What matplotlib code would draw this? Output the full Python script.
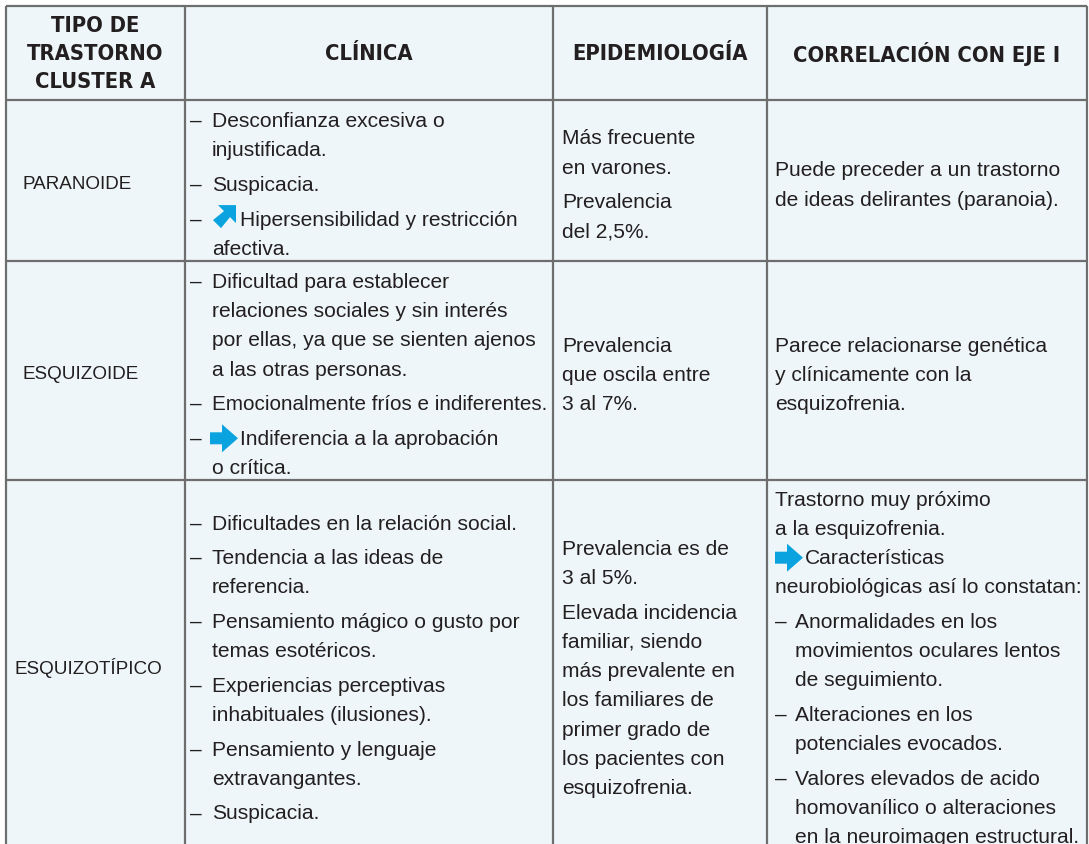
import matplotlib
matplotlib.use("Agg")
import matplotlib.pyplot as plt
from matplotlib import font_manager
from matplotlib.font_manager import FontProperties
from matplotlib.patches import Polygon, Rectangle

# ---------------- data ----------------
headers = [["TIPO DE", "TRASTORNO", "CLUSTER A"], ["CLÍNICA"], ["EPIDEMIOLOGÍA"], ["CORRELACIÓN CON EJE I"]]
row_labels = ["PARANOIDE", "ESQUIZOIDE", "ESQUIZOTÍPICO"]

# each paragraph: (dash, [lines]); a line starting with "↗" or "→" gets a blue arrow icon
clinica = [
    [(True, ["Desconfianza excesiva o", "injustificada."]),
     (True, ["Suspicacia."]),
     (True, ["↗Hipersensibilidad y restricción", "afectiva."])],
    [(True, ["Dificultad para establecer", "relaciones sociales y sin interés",
             "por ellas, ya que se sienten ajenos", "a las otras personas."]),
     (True, ["Emocionalmente fríos e indiferentes."]),
     (True, ["→Indiferencia a la aprobación", "o crítica."])],
    [(True, ["Dificultades en la relación social."]),
     (True, ["Tendencia a las ideas de", "referencia."]),
     (True, ["Pensamiento mágico o gusto por", "temas esotéricos."]),
     (True, ["Experiencias perceptivas", "inhabituales (ilusiones)."]),
     (True, ["Pensamiento y lenguaje", "extravangantes."]),
     (True, ["Suspicacia."])],
]
epidemiologia = [
    [(False, ["Más frecuente", "en varones."]),
     (False, ["Prevalencia", "del 2,5%."])],
    [(False, ["Prevalencia", "que oscila entre", "3 al 7%."])],
    [(False, ["Prevalencia es de", "3 al 5%."]),
     (False, ["Elevada incidencia", "familiar, siendo", "más prevalente en", "los familiares de",
              "primer grado de", "los pacientes con", "esquizofrenia."])],
]
correlacion = [
    [(False, ["Puede preceder a un trastorno", "de ideas delirantes (paranoia)."])],
    [(False, ["Parece relacionarse genética", "y clínicamente con la", "esquizofrenia."])],
    [(False, ["Trastorno muy próximo", "a la esquizofrenia.", "→Características",
              "neurobiológicas así lo constatan:"]),
     (True, ["Anormalidades en los", "movimientos oculares lentos", "de seguimiento."]),
     (True, ["Alteraciones en los", "potenciales evocados."]),
     (True, ["Valores elevados de acido", "homovanílico o alteraciones",
             "en la neuroimagen estructural."])],
]

# ---------------- layout / style ----------------
W, H = 1089, 845
col_x = [6, 185, 553, 767, 1087]
row_y = [7, 101, 262, 481, 855]
BG = "#eef6fa"
LINE = "#6e6e6e"
TXT = "#231f20"
BLUE = "#0ba3df"
LINE_SP = 29.2
PARA_SP = 34.6
BODY_FS = 15.1
LABEL_FS = 13.6
HEAD_FS = 17.5
HEAD_MAXW = 268  # widest header line must fit this (px)

# header font: a bold condensed face if one is installed
head_fp = None
for f in font_manager.fontManager.ttflist:
    nm = f.name + " " + str(f.fname)
    if (("Condensed" in nm or "Narrow" in nm or f.stretch in ("condensed", "semi-condensed"))
            and ("Bold" in nm or f.weight in ("bold", 700))
            and "Oblique" not in nm and "Italic" not in nm):
        head_fp = FontProperties(fname=f.fname)
        break
if head_fp is None:
    head_fp = FontProperties(family="Liberation Sans", weight="bold")

body_family = "Liberation Sans"

fig = plt.figure(figsize=(W / 100, H / 100), dpi=100)
ax = fig.add_axes([0, 0, 1, 1])
ax.set_xlim(0, W)
ax.set_ylim(H, 0)
ax.axis("off")

ax.add_patch(Rectangle((col_x[0], row_y[0]), col_x[-1] - col_x[0], row_y[-1] - row_y[0],
                       facecolor=BG, edgecolor="none", zorder=0))
for x in col_x:
    ax.plot([x, x], [row_y[0], row_y[-1]], color=LINE, lw=1.6, zorder=2, solid_capstyle="butt")
for y in row_y[:-1]:
    ax.plot([col_x[0], col_x[-1]], [y, y], color=LINE, lw=1.6, zorder=2, solid_capstyle="butt")

# header
head_texts = []
for c, lines in enumerate(headers):
    cx = (col_x[c] + col_x[c + 1]) / 2
    cy = (row_y[0] + row_y[1]) / 2 + 0.5
    n = len(lines)
    for i, t in enumerate(lines):
        y = cy + (i - (n - 1) / 2) * 28
        fp = head_fp.copy()
        fp.set_size(HEAD_FS)
        head_texts.append(ax.text(cx, y, t, ha="center", va="center", fontproperties=fp, color=TXT))

body_texts = []


def icon(kind, x, y):
    # x: left edge, y: vertical centre (pixels)
    if kind == "→":
        pts = [(x, y - 6), (x + 12, y - 6), (x + 12, y - 14), (x + 28, y),
               (x + 12, y + 14), (x + 12, y + 6), (x, y + 6)]
    else:  # diagonal arrow, tip at upper right, 90° head
        tx, ty = x + 26, y - 14
        pts = [(tx, ty), (tx, ty + 18), (tx - 6, ty + 12), (tx - 15, ty + 23),
               (tx - 23, ty + 15), (tx - 12, ty + 6), (tx - 18, ty)]
    ax.add_patch(Polygon(pts, closed=True, facecolor=BLUE, edgecolor="none", zorder=3))


def draw_cell(paras, x0, right, cy, dash_x, text_x):
    nlines = sum(len(p[1]) for p in paras)
    height = (nlines - len(paras)) * LINE_SP + (len(paras) - 1) * PARA_SP
    y = cy - height / 2
    for pi, (dash, lines) in enumerate(paras):
        if pi > 0:
            y += PARA_SP
        for li, t in enumerate(lines):
            if li > 0:
                y += LINE_SP
            tx = text_x if dash else x0
            if dash and li == 0:
                ax.text(dash_x, y, "–", ha="left", va="center", fontsize=BODY_FS,
                        family=body_family, color=TXT)
            if t[0] in "→↗":
                ix = dash_x + 20 if dash else x0
                icon(t[0], ix, y)
                tx = ix + 30
                t = t[1:]
            body_texts.append((ax.text(tx, y, t, ha="left", va="center", fontsize=BODY_FS,
                                       family=body_family, color=TXT), right))


row_cy = [(row_y[r + 1] + row_y[r + 2]) / 2 + 4 for r in range(3)]
row_cy[2] -= 3
for r in range(3):
    cy = row_cy[r]
    lbl_x = 22 if r < 2 else 14
    ax.text(lbl_x, cy - 1, row_labels[r], ha="left", va="center", fontsize=LABEL_FS,
            family=body_family, color=TXT)
    draw_cell(clinica[r], 212, col_x[2] - 6, cy, 190, 212)
    draw_cell(epidemiologia[r], 562, col_x[3] - 4, cy, 562, 562)
    draw_cell(correlacion[r], 775, col_x[4] - 4, cy, 775, 795)

fig.canvas.draw()
rend = fig.canvas.get_renderer()
# fit header lines
wmax = max(t.get_window_extent(rend).width for t in head_texts)
if wmax > HEAD_MAXW:
    for t in head_texts:
        t.set_fontsize(HEAD_FS * HEAD_MAXW / wmax)
# shrink body lines that would overflow their cell (as the typeset original does)
for t, right in body_texts:
    bb = t.get_window_extent(rend)
    if bb.x1 > right:
        t.set_fontsize(BODY_FS * (right - bb.x0) / bb.width)

fig.savefig("out.png", dpi=100, facecolor="white")
